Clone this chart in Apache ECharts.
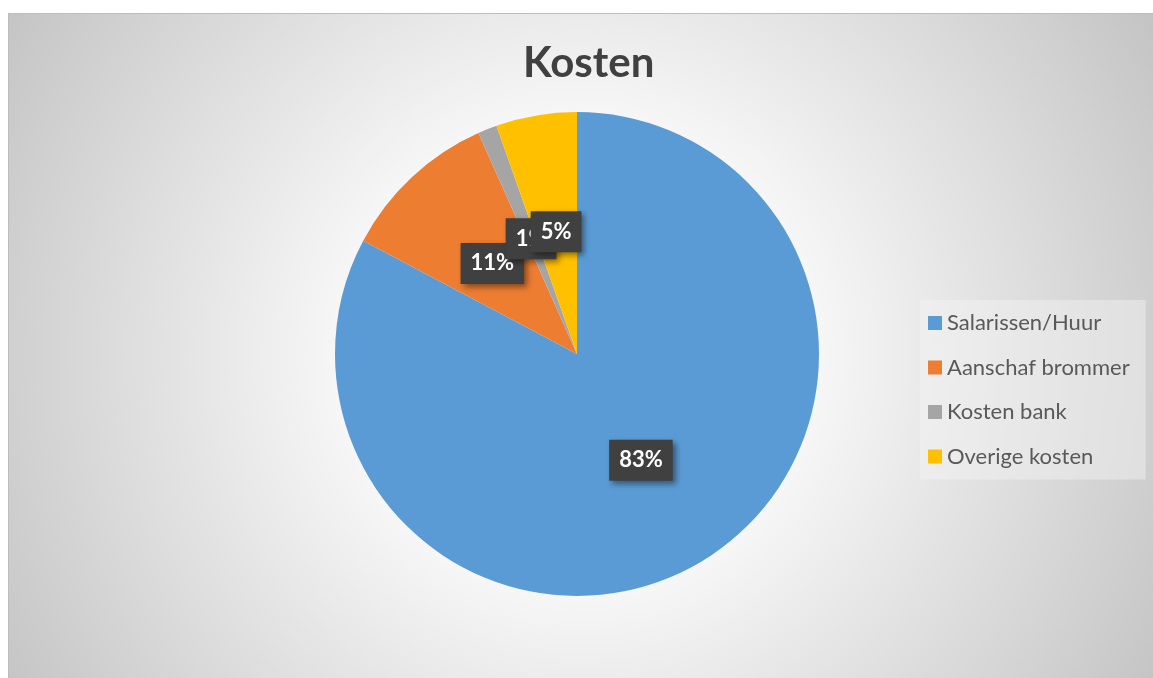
<!DOCTYPE html>
<html>
<head>
<meta charset="utf-8">
<title>Kosten</title>
<script src="https://cdn.jsdelivr.net/npm/echarts@6/dist/echarts.min.js"></script>
<style>
  html, body { margin: 0; padding: 0; background: #ffffff; }
  #frame {
    position: absolute; left: 8px; top: 13px; width: 1145px; height: 665px;
    box-sizing: border-box; border-top: 1px solid #bdbdbd; border-left: 1px solid #bdbdbd;
    background: radial-gradient(circle farthest-corner at 569px 341px, #ffffff 0%, #fbfbfb 30%, #c4c4c4 100%);
  }
  #kosten { position: absolute; left: 0; top: 0; width: 1153px; height: 678px; }
</style>
</head>
<body>
<div id="frame"></div>
<div id="kosten"></div>
<script>
  // data
  var categories = ['Salarissen/Huur', 'Aanschaf brommer', 'Kosten bank', 'Overige kosten'];
  var values = [82.76, 10.56, 1.28, 5.40];
  var colors = ['#5B9BD5', '#ED7D31', '#A5A5A5', '#FFC000'];

  var pieData = categories.map(function (name, i) {
    return { name: name, value: values[i], itemStyle: { color: colors[i] } };
  });

  var myChart = echarts.init(document.getElementById('kosten'));

  myChart.setOption({
    backgroundColor: 'transparent',
    animation: false,
    title: {
      text: 'Kosten',
      left: 518,
      top: 37,
      textStyle: { fontFamily: 'Lato', fontWeight: 'bold', fontSize: 42, color: '#404040' }
    },
    legend: {
      orient: 'vertical',
      left: 920,
      top: 300,
      padding: [12, 16, 12, 8],
      backgroundColor: 'rgba(245,245,245,0.45)',
      itemWidth: 14,
      itemHeight: 14,
      itemGap: 22.5,
      icon: 'rect',
      data: categories,
      textStyle: { fontFamily: 'Lato', fontSize: 22, color: '#595959' }
    },
    series: [
      {
        type: 'pie',
        center: [577, 354],
        radius: 242,
        startAngle: 90,
        clockwise: true,
        percentPrecision: 0,
        data: pieData,
        label: {
          position: 'inside',
          formatter: '{d}%',
          color: '#ffffff',
          fontFamily: 'Lato',
          fontWeight: 'bold',
          fontSize: 22,
          lineHeight: 24,
          backgroundColor: '#404040',
          padding: [9, 10, 8, 10],
          shadowColor: 'rgba(0,0,0,0.45)',
          shadowBlur: 6,
          shadowOffsetX: 3,
          shadowOffsetY: 3
        },
        labelLayout: { hideOverlap: false },
        labelLine: { show: false },
        emphasis: { disabled: true }
      }
    ]
  });
</script>
</body>
</html>
